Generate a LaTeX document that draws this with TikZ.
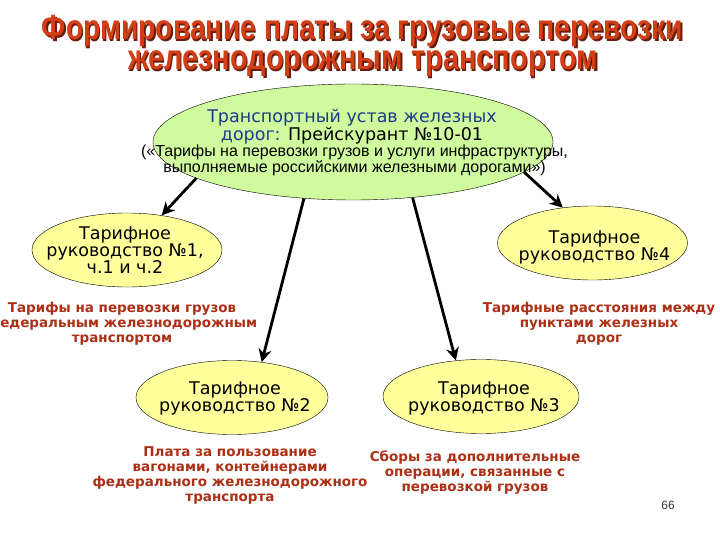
\documentclass[tikz,border=0pt]{standalone}
\usepackage{fontspec}
\usepackage{graphicx}
\setmainfont{DejaVu Sans}
\newfontfamily\arialfont{Liberation Sans}
\newfontfamily\headfont{Liberation Sans}
\usepackage{tikz}
\usetikzlibrary{arrows.meta, shapes.geometric, positioning}
\definecolor{titlered}{RGB}{210,62,22}
\definecolor{titleshade}{RGB}{105,28,10}
\definecolor{notered}{RGB}{172,48,22}
\definecolor{ustavblue}{RGB}{30,58,140}
\definecolor{ustavgreen}{RGB}{208,250,158}
\definecolor{tarifyellow}{RGB}{255,255,155}

\begin{document}
\begin{tikzpicture}[x=1pt, y=-1pt,
    every node/.style={inner sep=0pt},
    headline/.style={anchor=base, font=\headfont\bfseries\fontsize{35}{40}\selectfont},
    ustav/.style={ellipse, draw, fill=ustavgreen, minimum width=400pt, minimum height=116pt},
    tarif/.style={ellipse, draw, fill=tarifyellow, minimum width=190pt, minimum height=74pt},
    tarifname/.style={align=center, font=\fontsize{17.5}{17}\selectfont},
    note/.style={align=center, text=notered, font=\bfseries\fontsize{13.5}{15}\selectfont},
    link/.style={-{Stealth[length=13pt, width=13pt]}, line width=2.8pt}]
\useasboundingbox[fill=white] (0,0) rectangle (720,540);
%
% title
\node[headline, text=titleshade] (h1s) at (364,41.5) {\resizebox{641pt}{\height}{Формирование платы за грузовые перевозки}};
\node[headline, text=titlered]   (h1)  at (362.5,40) {\resizebox{641pt}{\height}{Формирование платы за грузовые перевозки}};
\node[headline, text=titleshade] (h2s) at (364.5,71.5) {\resizebox{470pt}{\height}{железнодорожным транспортом}};
\node[headline, text=titlered]   (h2)  at (363,70) {\resizebox{470pt}{\height}{железнодорожным транспортом}};
%
% ellipses
\node[ustav] (top) at (353,142) {};
\node[tarif] (r1) at (127,250) {};
\node[tarif] (r4) at (592.5,243) {};
\node[tarif, minimum width=192pt] (r2) at (232,397.5) {};
\node[tarif, minimum width=196pt] (r3) at (481,396.5) {};
%
\node[align=center, font=\fontsize{17.5}{18}\selectfont] (topname) at (352,127)
  {\textcolor{ustavblue}{Транспортный устав железных}\\ \textcolor{ustavblue}{дорог:} Прейскурант №10-01};
\node[align=center, font=\arialfont\fontsize{16}{16}\selectfont] (topnote) at (354.5,160)
  {(«Тарифы на перевозки грузов и услуги инфраструктуры,\\ выполняемые российскими железными дорогами»)};
%
\node[tarifname] (r1name) at (125,250) {Тарифное\\ руководство №1,\\ ч.1 и ч.2};
\node[tarifname] (r4name) at (594.5,247.5) {Тарифное\\ руководство №4};
\node[tarifname] (r2name) at (235,398.5) {Тарифное\\ руководство №2};
\node[tarifname] (r3name) at (484,398.5) {Тарифное\\ руководство №3};
%
% arrows
\draw[link] (top.193) -- (r1.45);
\draw[link] (top.350) -- (r4.130);
\draw[link] (top.229) -- (r2.50);
\draw[link] (top.317) -- (r3.125);
%
% notes
\node[note] (n1) at (122,323.5) {Тарифы на перевозки грузов\\ федеральным железнодорожным\\ транспортом};
\node[note] (n4) at (599,323.5) {Тарифные расстояния между\\ пунктами железных\\ дорог};
\node[note] (n2) at (230,475) {Плата за пользование\\ вагонами, контейнерами\\ федерального железнодорожного\\ транспорта};
\node[note] (n3) at (475,472.5) {Сборы за дополнительные\\ операции, связанные с\\ перевозкой грузов};
%
\node[font=\arialfont\fontsize{12}{14}\selectfont, text=black!80] (page) at (668,505) {66};
\end{tikzpicture}
\end{document}
